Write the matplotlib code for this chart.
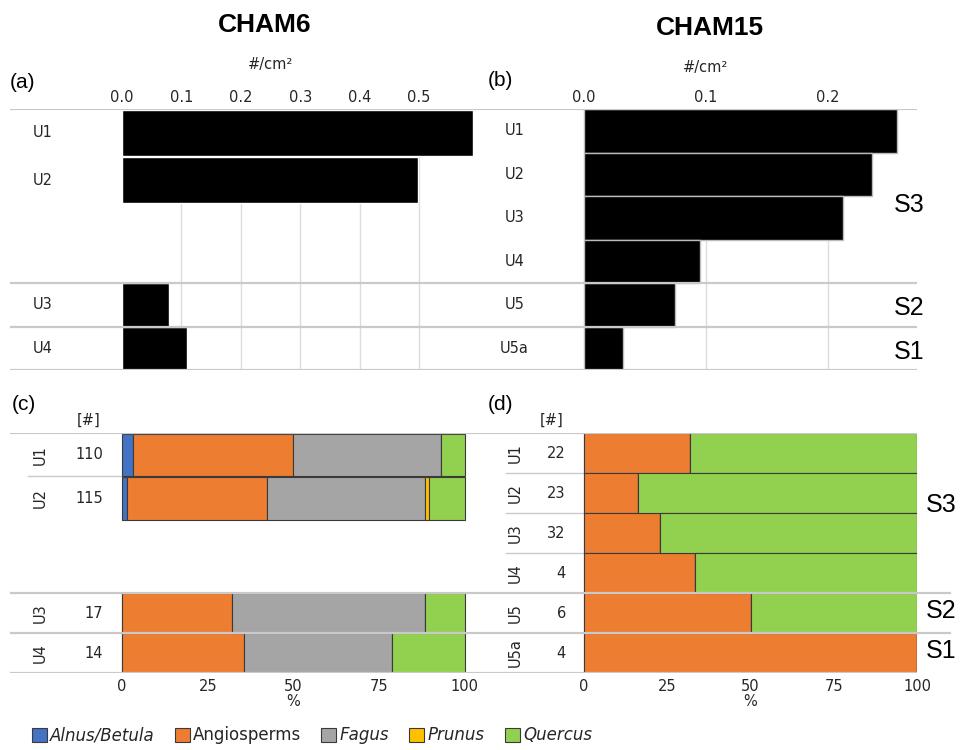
import numpy as np
import matplotlib
matplotlib.use("Agg")
import matplotlib.pyplot as plt
from matplotlib.patches import Patch
import matplotlib.transforms as mtrans

plt.rcParams['font.family'] = ['DejaVu Sans']

# ---- data ----
units_6 = ['U1', 'U2', 'U3', 'U4']
dens_6 = [0.591, 0.499, 0.079, 0.109]
counts_6 = [110, 115, 17, 14]

units_15 = ['U1', 'U2', 'U3', 'U4', 'U5', 'U5a']
dens_15 = [0.257, 0.236, 0.212, 0.095, 0.075, 0.032]
counts_15 = [22, 23, 32, 4, 6, 4]

taxa = ['Alnus/Betula', 'Angiosperms', 'Fagus', 'Prunus', 'Quercus']
italic = [True, False, True, True, True]
colors = ['#4472C4', '#ED7D31', '#A5A5A5', '#FFC000', '#92D050']

alnus_6 = [3.1, 1.4, 0.0, 0.0]
angio_6 = [46.9, 40.8, 32.0, 35.7]
fagus_6 = [43.0, 46.3, 56.3, 42.9]
prunus_6 = [0.0, 1.1, 0.0, 0.0]
quercus_6 = [7.0, 10.4, 11.7, 21.4]

alnus_15 = [0, 0, 0, 0, 0, 0]
angio_15 = [31.7, 16.3, 22.7, 33.3, 50.0, 100.0]
fagus_15 = [0, 0, 0, 0, 0, 0]
prunus_15 = [0, 0, 0, 0, 0, 0]
quercus_15 = [68.3, 83.7, 77.3, 66.7, 50.0, 0.0]

zones = ['S3', 'S2', 'S1']
zone_rows = [4, 1, 1]   # number of CHAM15 units in each zone

# ---- layout helpers ----
# CHAM15: one row per unit. CHAM6: U1,U2 share the S3 block, U3->S2, U4->S1
pitch6 = 1.09
ypos_15 = np.arange(6) + 0.5
ypos_6 = np.array([0.5 * pitch6, 1.5 * pitch6, 4.5, 5.5])
h_15 = np.ones(6)
h_6 = np.array([pitch6 - 0.03, pitch6 - 0.03, 1.0, 1.0])
bounds = np.cumsum([0] + zone_rows)  # 0,4,5,6
zone_mid = (bounds[:-1] + bounds[1:]) / 2

LINE = '#c9c9c9'
GRID = '#dcdcdc'
TXT = '#262626'
FS = 10.5
SANS = ['Liberation Sans', 'DejaVu Sans']

fig = plt.figure(figsize=(9.6, 7.5), dpi=100)
ax_a = fig.add_axes([10/960, 1-370/750, 470/960, 261/750])
ax_b = fig.add_axes([480/960, 1-370/750, 437/960, 261/750])
ax_c = fig.add_axes([10/960, 1-673/750, 470/960, 240/750])
ax_d = fig.add_axes([480/960, 1-673/750, 437/960, 240/750])

for ax in (ax_a, ax_b, ax_c, ax_d):
    for s in ax.spines.values():
        s.set_visible(False)
    ax.set_yticks([])
    ax.tick_params(axis='x', length=0, labelsize=FS, colors=TXT)
    ax.set_ylim(6, 0)

# ---- density panels ----
def density(ax, units, dens, ypos, heights, xlim, ticks, label_x, edge):
    ax.set_xlim(*xlim)
    ax.barh(ypos, dens, height=heights, color='black', edgecolor=edge,
            linewidth=1, zorder=2)
    for t in ticks[1:]:
        ax.plot([t, t], [0, 6], color=GRID, lw=1, zorder=0)
    for b in bounds:
        ax.axhline(b, color=LINE, lw=1.6, zorder=3)
    ax.xaxis.tick_top()
    ax.set_xticks(ticks)
    ax.set_xticklabels(['%.1f' % t for t in ticks])
    ax.tick_params(axis='x', pad=3)
    for u, y in zip(units, ypos):
        ax.text(label_x, y, u, ha='center', va='center', fontsize=FS,
                color=TXT)

density(ax_a, units_6, dens_6, ypos_6, h_6, (-0.1886, 0.6027),
        np.arange(0, 0.51, 0.1), -0.133, 'white')
density(ax_b, units_15, dens_15, ypos_15, h_15, (-0.0852, 0.273),
        np.arange(0, 0.21, 0.1), -0.057, '#bbbbbb')

tr_a = mtrans.blended_transform_factory(ax_a.transData, ax_a.transAxes)
ax_a.text(0.25, 1.17, '#/cm²', transform=tr_a, ha='center', va='center',
          fontsize=FS, color=TXT)
tr_b = mtrans.blended_transform_factory(ax_b.transData, ax_b.transAxes)
ax_b.text(0.1, 1.16, '#/cm²', transform=tr_b, ha='center', va='center',
          fontsize=FS, color=TXT)

# ---- composition panels ----
series_6 = [alnus_6, angio_6, fagus_6, prunus_6, quercus_6]
series_15 = [alnus_15, angio_15, fagus_15, prunus_15, quercus_15]

def composition(ax, units, counts, series, ypos, heights, xlim, label_x,
                sep_from):
    ax.set_xlim(*xlim)
    left = np.zeros(len(units))
    for vals, c in zip(series, colors):
        vals = np.array(vals, dtype=float)
        ax.barh(ypos, vals, left=left, height=heights, color=c,
                edgecolor='#3a3a3a', linewidth=0.8, zorder=2)
        left += vals
    for b in bounds:
        ax.axhline(b, color=LINE, lw=1.6, zorder=3)
    # thin separators between units in the label area
    edges = ypos[:-1] + heights[:-1] / 2
    for e, nxt in zip(edges, ypos[1:]):
        if not np.any(np.isclose(e, bounds)) and nxt - e < 1:
            ax.plot([sep_from, 0], [e, e], color=LINE, lw=1, zorder=1)
    ax.set_xticks([0, 25, 50, 75, 100])
    ax.tick_params(axis='x', pad=4)
    for u, n, y in zip(units, counts, ypos):
        ax.text(label_x, y, u, ha='center', va='center', rotation=90,
                fontsize=FS, color=TXT)
        ax.text(-5.5, y, str(n), ha='right', va='center', fontsize=FS,
                color=TXT)
    tr = mtrans.blended_transform_factory(ax.transData, ax.transAxes)
    ax.text(50, -0.12, '%', transform=tr, ha='center', va='center',
            fontsize=FS, color=TXT)
    ax.text(-9.7, 1.055, '[#]', transform=tr, ha='center', va='center',
            fontsize=FS, color=TXT)

composition(ax_c, units_6, counts_6, series_6, ypos_6, h_6,
            (-32.65, 104.4), -23.9, -27.5)
composition(ax_d, units_15, counts_15, series_15, ypos_15, h_15,
            (-31.3, 100.0), -20.8, -23.5)

# zone separators of (d) reach past the axis
for b in bounds[1:-1]:
    ax_d.plot([100, 110], [b, b], color=LINE, lw=1.6, clip_on=False, zorder=3)

# ---- zone labels ----
tr_bz = mtrans.blended_transform_factory(ax_b.transAxes, ax_b.transData)
tr_dz = mtrans.blended_transform_factory(ax_d.transAxes, ax_d.transData)
for z, m in zip(zones, zone_mid):
    ax_b.text(0.948, m + (0.2 if z == 'S3' else 0.08), z, transform=tr_bz,
              ha='left', va='center', fontsize=18, family=SANS, clip_on=False)
    ax_d.text(1.02, m - (0.2 if z == 'S3' else 0.05), z, transform=tr_dz,
              ha='left', va='center', fontsize=18, family=SANS, clip_on=False)

# ---- titles and panel letters ----
fig.text(265/960, 1-25/750, 'CHAM6', ha='center', va='center', fontsize=19,
         fontweight='bold', family=SANS)
fig.text(710/960, 1-28/750, 'CHAM15', ha='center', va='center', fontsize=19,
         fontweight='bold', family=SANS)
for lab, x, y in [('(a)', 10, 82), ('(b)', 488, 80), ('(c)', 12, 405),
                  ('(d)', 488, 405)]:
    fig.text(x/960, 1-y/750, lab, ha='left', va='center', fontsize=15,
             family=SANS)

# ---- legend ----
handles = [Patch(facecolor=c, edgecolor='#3a3a3a', linewidth=0.8)
           for c in colors]
leg = fig.legend(handles, taxa, loc='lower left',
                 bbox_to_anchor=(20/960, -0.008), ncol=5, frameon=False,
                 fontsize=12, handlelength=0.9, handleheight=0.9,
                 handletextpad=0.2, columnspacing=1.2, borderpad=0.2)
for t, it in zip(leg.get_texts(), italic):
    t.set_color(TXT)
    if it:
        t.set_fontstyle('italic')

fig.savefig('out.png', dpi=100)
